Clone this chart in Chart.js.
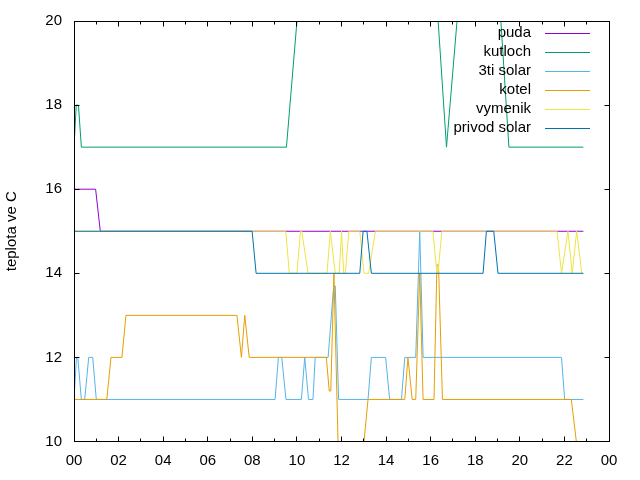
<!DOCTYPE html>
<html lang="cs">
  <head>
    <meta charset="utf-8" />
    <title>teploty</title>
    <script src="https://cdn.jsdelivr.net/npm/chart.js@4.4.1/dist/chart.umd.min.js"></script>
    <style>
      html,
      body {
        margin: 0;
        padding: 0;
        background: #fff;
      }
    </style>
  </head>
  <body>
    <canvas id="chart" width="640" height="480"></canvas>
    <script>
      // series names and colours (gnuplot default palette)
      const seriesNames = ["puda", "kutloch", "3ti solar", "kotel", "vymenik", "privod solar"];
      const seriesColors = ["#9400d3", "#009e73", "#56b4e9", "#e69f00", "#f0e442", "#0072b2"];

      // [hour of day, temperature] at each change seen in the picture
      const puda = [[0, 16], [0.97, 16], [1.18, 15], [22.85, 15]];
      const kutloch = [[0, 17], [0.1, 18], [0.2, 18], [0.33, 17], [9.53, 17], [10.16, 21],
        [16.21, 21], [16.71, 17], [17.34, 21], [19.03, 21], [19.51, 17], [22.85, 17]];
      const solar3ti = [[0, 11], [0.11, 12], [0.17, 12], [0.33, 11], [0.48, 11], [0.66, 12],
        [0.84, 12], [1.0, 11], [9.02, 11], [9.17, 12], [9.32, 12], [9.51, 11], [10.2, 11],
        [10.35, 12], [10.52, 11], [10.72, 11], [10.82, 12], [11.4, 12], [11.65, 13.7],
        [11.72, 13.7], [11.87, 11], [13.19, 11], [13.34, 12], [13.98, 12], [14.16, 11],
        [14.69, 11], [14.84, 12], [15.33, 12], [15.51, 15], [15.66, 12], [21.87, 12],
        [22.01, 11], [22.85, 11]];
      const kotel = [[0, 11], [1.47, 11], [1.66, 12], [2.15, 12], [2.33, 13], [7.31, 13],
        [7.51, 12], [7.66, 13], [7.86, 12], [11.32, 12], [11.45, 11.2], [11.52, 11.2],
        [11.66, 14], [11.89, 9], [12.83, 9], [13.19, 11], [14.84, 11], [14.98, 12],
        [15.17, 11], [15.33, 11], [15.51, 14], [15.66, 11], [16.15, 11], [16.28, 14.2],
        [16.35, 14.2], [16.53, 11], [22.31, 11], [22.85, 8.6]];
      const vymenik = [[0, 15], [9.5, 15], [9.66, 14], [10.0, 14], [10.16, 15], [10.22, 15],
        [10.5, 14], [11.35, 14], [11.5, 15], [11.72, 14], [11.9, 14], [12.0, 15], [12.1, 14],
        [12.17, 14], [12.33, 15], [12.82, 15], [13.01, 14], [13.22, 14], [13.52, 15],
        [16.1, 15], [16.28, 14], [16.33, 14], [16.5, 15], [21.67, 15], [21.87, 14],
        [22.16, 15], [22.35, 14], [22.55, 15], [22.78, 14], [22.85, 14]];
      const privodSolar = [[0, 15], [7.99, 15], [8.17, 14], [12.82, 14], [12.97, 15],
        [13.14, 15], [13.34, 14], [18.35, 14], [18.5, 15], [18.83, 15], [19.02, 14], [22.85, 14]];

      const seriesData = [puda, kutloch, solar3ti, kotel, vymenik, privodSolar];

      const xTickLabels = ["00", "02", "04", "06", "08", "10", "12", "14", "16", "18", "20", "22", "00"];
      const yTickValues = [10, 12, 14, 16, 18, 20];

      Chart.defaults.font.family = "'Liberation Sans', Arial, sans-serif";
      Chart.defaults.font.size = 15;
      Chart.defaults.color = "#000";

      // gnuplot look: frame, inward ticks on all sides, key at top right
      const gnuplotFrame = {
        id: "gnuplotFrame",
        afterDraw(chart) {
          const ctx = chart.ctx;
          const a = chart.chartArea;
          const xs = chart.scales.x;
          const ys = chart.scales.y;
          ctx.save();
          ctx.strokeStyle = "#000";
          ctx.lineWidth = 1;
          const L = Math.floor(a.left) + 0.5;
          const R = Math.floor(a.right) + 0.5;
          const T = Math.floor(a.top) + 0.5;
          const B = Math.floor(a.bottom) + 0.5;
          ctx.strokeRect(L, T, R - L, B - T);
          ctx.beginPath();
          for (let h = 0; h <= 24; h++) {
            const px = Math.floor(xs.getPixelForValue(h)) + 0.5;
            const len = h % 2 === 0 ? 5 : 3;
            ctx.moveTo(px, B);
            ctx.lineTo(px, B - len);
            ctx.moveTo(px, T);
            ctx.lineTo(px, T + len);
          }
          yTickValues.forEach((v) => {
            const py = Math.floor(ys.getPixelForValue(v)) + 0.5;
            ctx.moveTo(L, py);
            ctx.lineTo(L + 5, py);
            ctx.moveTo(R, py);
            ctx.lineTo(R - 5, py);
          });
          ctx.stroke();

          // key
          ctx.font = "15px 'Liberation Sans', Arial, sans-serif";
          ctx.textAlign = "right";
          ctx.textBaseline = "middle";
          seriesNames.forEach((name, i) => {
            const y = 33 + i * 19;
            ctx.fillStyle = "#000";
            ctx.fillText(name, 531, y);
            ctx.strokeStyle = seriesColors[i];
            ctx.beginPath();
            ctx.moveTo(545, y + 0.5);
            ctx.lineTo(590, y + 0.5);
            ctx.stroke();
          });
          ctx.restore();
        }
      };

      new Chart(document.getElementById("chart"), {
        type: "line",
        data: {
          datasets: seriesData.map((pts, i) => ({
            label: seriesNames[i],
            data: pts.map((p) => ({ x: p[0], y: p[1] })),
            borderColor: seriesColors[i],
            borderWidth: 1,
            pointRadius: 0,
            tension: 0,
            fill: false,
            order: seriesNames.length - i
          }))
        },
        options: {
          responsive: false,
          animation: false,
          layout: { padding: { top: 19.5, right: 31, left: 0, bottom: 0 } },
          plugins: {
            legend: { display: false },
            tooltip: { enabled: false }
          },
          scales: {
            x: {
              type: "linear",
              min: 0,
              max: 24,
              grid: { display: false, drawTicks: false },
              border: { display: false },
              ticks: {
                stepSize: 1,
                autoSkip: false,
                maxRotation: 0,
                padding: 10,
                callback: (v) => (v % 2 === 0 ? xTickLabels[v / 2] : "")
              },
              afterFit: (s) => { s.height = 38.5; }
            },
            y: {
              min: 10,
              max: 20,
              grid: { display: false, drawTicks: false },
              border: { display: false },
              ticks: { stepSize: 2, padding: 12 },
              title: { display: true, text: "teplota ve C", padding: { top: 3, bottom: 0 } },
              afterFit: (s) => { s.width = 74; }
            }
          }
        },
        plugins: [gnuplotFrame]
      });
    </script>
  </body>
</html>
